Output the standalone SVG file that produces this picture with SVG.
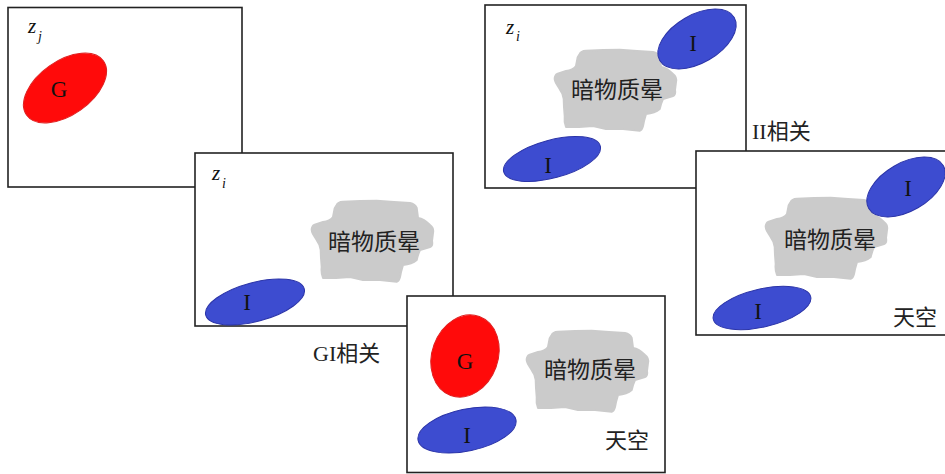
<svg xmlns="http://www.w3.org/2000/svg" xmlns:xlink="http://www.w3.org/1999/xlink" width="945" height="474" viewBox="0 0 945 474">
<style>
.panel{fill:#fff;stroke:#222;stroke-width:1.6}
.red{fill:#ff0a0a;stroke:#e02020;stroke-width:1}
.blue{fill:#3d4cd0;stroke:#2b34a8;stroke-width:1}
.t{font-family:"Liberation Serif","Noto Sans CJK SC",serif;fill:#111}
.big{font-size:23px;text-anchor:middle}
.cjk{font-family:"Liberation Serif","Noto Sans CJK SC",serif;font-size:22px;fill:#222}
.halo-t{font-size:23px;text-anchor:middle}
.lbl{font-size:22px}
.z{font-family:"Liberation Serif",serif;font-style:italic;fill:#111}
.zb{font-size:21px}
.zs{font-size:14px}
</style>
<defs>
<path id="halo" fill="#cbcbcb" stroke="#cbcbcb" stroke-width="2" stroke-linejoin="round" d="M24.7,5 Q26,2 31,1.7 L48,1 L64.7,0.7 L82,2 L98,3 Q103,4 104.7,8 L106,18 Q112,19 118,25 Q122,28 121,33 L120,41 Q121,46 118,47 L108,50 Q106,54 104.7,60 Q100,64 91,65 L89,72 L88,77 Q87,81 84.7,81.7 L68,80 L51,80 L38,77 L24,78 L11,78 Q9,73 9.7,67 L9,58 L8.7,50 Q8,44 4.7,40 L1,34 Q-1,30 0,28 Q1,25 2,25 L11,22 Q18,21 21,17 Q22,12 22.7,8.3 Z"/>
</defs>

<g id="panel-zj">
<rect class="panel" x="8" y="7.5" width="234" height="179.5"/>
<text class="z zb" x="28" y="33">z</text>
<text class="z zs" x="38" y="41">j</text>
<ellipse class="red" cx="65" cy="88" rx="47" ry="27" transform="rotate(-35 65 88)"/>
<text class="t big" x="59" y="97">G</text>
</g>

<g id="panel-zi-gi">
<rect class="panel" x="195" y="153" width="258" height="173"/>
<text class="z zb" x="212" y="180">z</text>
<text class="z zs" x="222" y="188">i</text>
<use xlink:href="#halo" href="#halo" x="312" y="200"/>
<text class="cjk halo-t" x="374" y="250">暗物质晕</text>
<ellipse class="blue" cx="255" cy="302" rx="51" ry="19.5" transform="rotate(-15 255 302)"/>
<text class="t big" x="247" y="310">I</text>
</g>

<g id="label-gi">
<text class="cjk lbl" x="313" y="361">GI相关</text>
</g>

<g id="panel-sky-gi">
<rect class="panel" x="407" y="296" width="258" height="176.5"/>
<ellipse class="red" cx="465" cy="356" rx="33" ry="42" transform="rotate(20 465 356)"/>
<text class="t big" x="465" y="369">G</text>
<ellipse class="blue" cx="467" cy="430" rx="50" ry="21" transform="rotate(-12 467 430)"/>
<text class="t big" x="467" y="443">I</text>
<use xlink:href="#halo" href="#halo" x="527" y="330"/>
<text class="cjk halo-t" x="590" y="378">暗物质晕</text>
<text class="cjk" x="605" y="448">天空</text>
</g>

<g id="panel-zi-ii">
<rect class="panel" x="485" y="5" width="261" height="183"/>
<text class="z zb" x="506" y="34">z</text>
<text class="z zs" x="516" y="41">i</text>
<use xlink:href="#halo" href="#halo" x="555" y="49"/>
<text class="cjk halo-t" x="617" y="98">暗物质晕</text>
<ellipse class="blue" cx="697" cy="39" rx="43" ry="24" transform="rotate(-30 697 39)"/>
<text class="t big" x="693" y="51">I</text>
<ellipse class="blue" cx="552" cy="159" rx="50" ry="19" transform="rotate(-15 552 159)"/>
<text class="t big" x="548" y="173">I</text>
</g>

<g id="label-ii">
<text class="cjk lbl" x="752" y="139">II相关</text>
</g>

<g id="panel-sky-ii">
<rect class="panel" x="696" y="151" width="260" height="184"/>
<use xlink:href="#halo" href="#halo" x="766" y="197"/>
<text class="cjk halo-t" x="830" y="248">暗物质晕</text>
<ellipse class="blue" cx="906" cy="187" rx="43" ry="24" transform="rotate(-30 906 187)"/>
<text class="t big" x="908" y="196">I</text>
<ellipse class="blue" cx="762" cy="308" rx="50" ry="19" transform="rotate(-13 762 308)"/>
<text class="t big" x="758" y="319">I</text>
<text class="cjk" x="893" y="325">天空</text>
</g>
</svg>
